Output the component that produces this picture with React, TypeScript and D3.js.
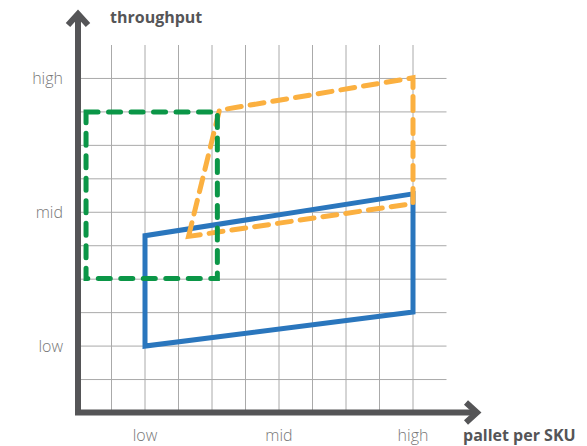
import React from "react";
import * as d3 from "d3";

// Grid units: 0..11 on both axes; tick labels at 2, 6, 10
const tickValues = [2, 6, 10];
const tickLabels = ["low", "mid", "high"];
const gridValues = [1, 2, 3, 4, 5, 6, 7, 8, 9, 10];

// polygons: [x, y] in grid units
const blueX = [2, 2, 10, 10];
const blueY = [2, 5.3, 6.55, 3.02];
const orangeX = [3.3, 4.22, 10, 10];
const orangeY = [5.28, 9.05, 10.02, 6.26];
const greenX = [0.24, 4.16, 4.16, 0.24];
const greenY = [9, 9, 4.02, 4.02];

const series = [
  { name: "blue", xs: blueX, ys: blueY, color: "#2a76bd", dash: "none" },
  { name: "orange", xs: orangeX, ys: orangeY, color: "#fbb040", dash: "14,9" },
  { name: "green", xs: greenX, ys: greenY, color: "#0b9647", dash: "12,10.5" },
];

const W = 587;
const H = 446;

export default function App() {
  const x = d3.scaleLinear().domain([0, 11]).range([78, 446.5]);
  const y = d3.scaleLinear().domain([0, 11]).range([413, 45]);
  const line = d3
    .line<[number, number]>()
    .x((d) => x(d[0]))
    .y((d) => y(d[1]))
    .curve(d3.curveLinearClosed);

  const axisColor = "#555557";
  const font = "'Open Sans', 'DejaVu Sans', sans-serif";

  return (
    <svg
      width={W}
      height={H}
      style={{ position: "absolute", left: 0, top: 0, background: "#fff" }}
    >
      {/* grid */}
      <g stroke="#aaaaaa" strokeWidth={1}>
        {gridValues.map((v) => (
          <line key={"v" + v} x1={x(v)} x2={x(v)} y1={y(11)} y2={y(0)} />
        ))}
        {gridValues.map((v) => (
          <line key={"h" + v} x1={x(0)} x2={x(11)} y1={y(v)} y2={y(v)} />
        ))}
      </g>

      {/* shapes */}
      {series.map((s) => (
        <path
          key={s.name}
          d={line(s.xs.map((v, i) => [v, s.ys[i]] as [number, number])) || ""}
          fill="none"
          stroke={s.color}
          strokeWidth={5}
          strokeDasharray={s.dash}
          strokeLinecap={s.dash === "none" ? "butt" : "round"}
          strokeLinejoin="miter"
        />
      ))}

      {/* axes */}
      <g stroke={axisColor} fill="none" strokeWidth={6}>
        <line x1={x(0)} x2={x(0)} y1={y(0) + 2} y2={14} />
        <line x1={x(0) - 3} x2={476} y1={412.5} y2={412.5} />
        <polyline points={`${x(0) - 10},25 ${x(0)},14 ${x(0) + 10},25`} strokeLinejoin="miter" />
        <polyline points={`466,402.5 477,412.5 466,422.5`} strokeLinejoin="miter" />
      </g>

      {/* tick labels */}
      <g fontFamily={font} fontSize={16} fill="#777" fontWeight={300}>
        {tickValues.map((v, i) => (
          <text key={"xt" + v} x={x(v)} y={441} textAnchor="middle">
            {tickLabels[i]}
          </text>
        ))}
        {tickValues.map((v, i) => (
          <text key={"yt" + v} x={63} y={y(v) + 6} textAnchor="end">
            {tickLabels[i]}
          </text>
        ))}
      </g>

      {/* axis titles */}
      <g fontFamily={font} fontSize={16} fontWeight={700} fill="#555557">
        <text x={110} y={23}>throughput</text>
        <text x={463} y={441}>pallet per SKU</text>
      </g>
    </svg>
  );
}
